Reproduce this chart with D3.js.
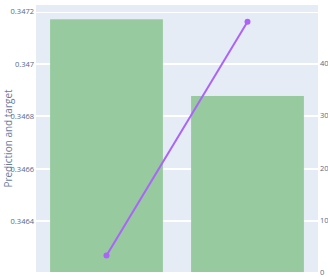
<!DOCTYPE html>
<html>
<head>
<meta charset="utf-8">
<script src="https://cdn.jsdelivr.net/npm/d3@7"></script>
<style>
  html, body { margin: 0; padding: 0; background: #fff; }
  svg { display: block; font-family: "Open Sans", sans-serif; }
</style>
</head>
<body>
<div id="chart"></div>
<script>
const categories = ["0", "1"];
const targetCounts = [48410, 33720];
const predictions = [0.346268, 0.347161];
const leftTicks = [0.3464, 0.3466, 0.3468, 0.347, 0.3472];
const rightTicks = [0, 10000, 20000, 30000, 40000];

const width = 328, height = 277;
const margin = {top: 5, right: 10, bottom: 5, left: 36};
const plotW = width - margin.left - margin.right;
const plotH = 272 - margin.top;

const svg = d3.select("#chart").append("svg")
    .attr("width", width)
    .attr("height", height);

const g = svg.append("g")
    .attr("transform", `translate(${margin.left},${margin.top})`);

const x = d3.scaleBand()
    .domain(categories)
    .range([0, plotW])
    .paddingInner(0.2)
    .paddingOuter(0.1);

const xPoint = d3.scalePoint()
    .domain(categories)
    .range([0, plotW])
    .padding(0.5);

const yLeft = d3.scaleLinear()
    .domain([0.346205, 0.347225])
    .range([plotH, 0]);

const yRight = d3.scaleLinear()
    .domain([0, 51150])
    .range([plotH, 0]);

g.append("rect")
    .attr("width", plotW)
    .attr("height", plotH)
    .attr("fill", "#E5ECF6");

// gridlines for both axes
g.selectAll(".gridL")
    .data(leftTicks)
    .enter().append("line")
    .attr("x1", 0).attr("x2", plotW)
    .attr("y1", d => Math.round(yLeft(d)) + 0.5)
    .attr("y2", d => Math.round(yLeft(d)) + 0.5)
    .attr("stroke", "#fff")
    .attr("stroke-width", 1);

g.selectAll(".gridR")
    .data(rightTicks.slice(1))
    .enter().append("line")
    .attr("x1", 0).attr("x2", plotW)
    .attr("y1", d => Math.round(yRight(d)) + 0.5)
    .attr("y2", d => Math.round(yRight(d)) + 0.5)
    .attr("stroke", "#fff")
    .attr("stroke-width", 1);

g.selectAll(".bar")
    .data(targetCounts)
    .enter().append("rect")
    .attr("x", (d, i) => x(categories[i]))
    .attr("width", x.bandwidth())
    .attr("y", d => yRight(d))
    .attr("height", d => plotH - yRight(d))
    .attr("fill", "#97CA9E");

const line = d3.line()
    .x((d, i) => xPoint(categories[i]))
    .y(d => yLeft(d));

g.append("path")
    .datum(predictions)
    .attr("d", line)
    .attr("fill", "none")
    .attr("stroke", "#AB63FA")
    .attr("stroke-width", 2);

g.selectAll(".dot")
    .data(predictions)
    .enter().append("circle")
    .attr("cx", (d, i) => xPoint(categories[i]))
    .attr("cy", d => yLeft(d))
    .attr("r", 3)
    .attr("fill", "#AB63FA");

// left axis labels
const axisL = d3.axisLeft(yLeft).tickValues(leftTicks).tickSize(0).tickPadding(2)
    .tickFormat(d => d3.format("~g")(d));
const gl = g.append("g").call(axisL);
gl.select(".domain").remove();
gl.selectAll("text").attr("fill", "#56698a").style("font-size", "7.5px")
    .style("font-family", "'Open Sans', sans-serif");

// right axis labels
const axisR = d3.axisRight(yRight).tickValues(rightTicks).tickSize(0).tickPadding(2)
    .tickFormat(d => d === 0 ? "0" : (d / 1000) + "k");
const gr = g.append("g").attr("transform", `translate(${plotW},0)`).call(axisR);
gr.select(".domain").remove();
gr.selectAll("text").attr("fill", "#56698a").style("font-size", "7.5px")
    .style("font-family", "'Open Sans', sans-serif");

svg.append("text")
    .attr("transform", `translate(11.5,${margin.top + plotH / 2}) rotate(-90)`)
    .attr("text-anchor", "middle")
    .attr("fill", "#6a7b9b")
    .style("font-size", "10px")
    .text("Prediction and target");
</script>
</body>
</html>
